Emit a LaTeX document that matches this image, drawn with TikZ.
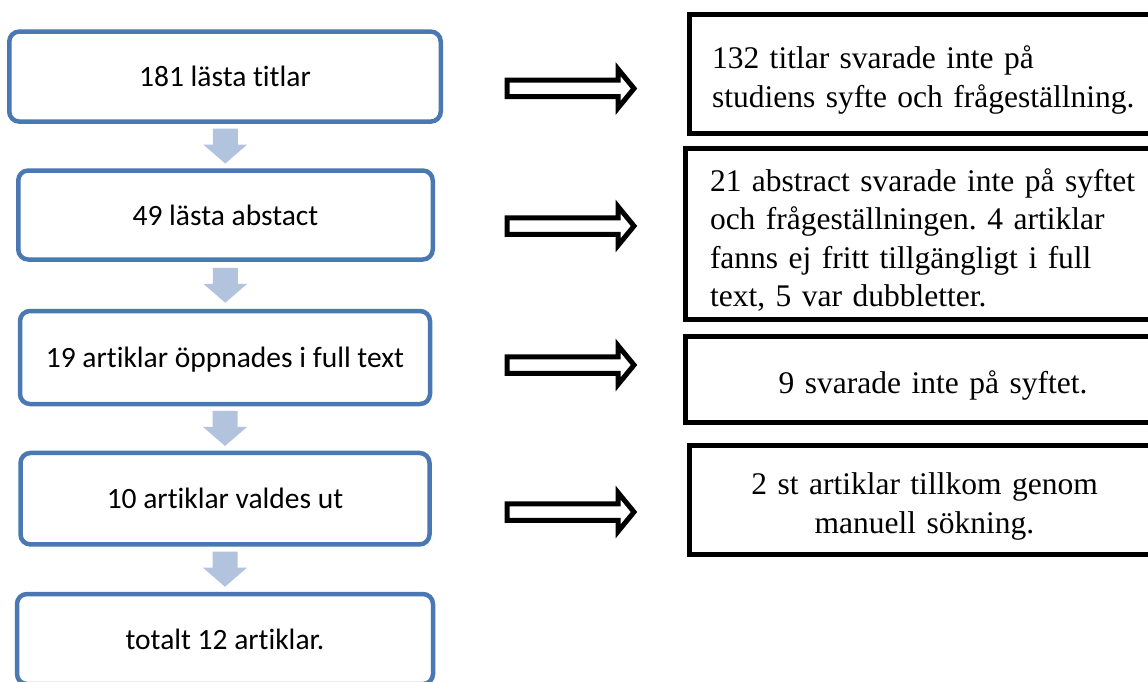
\documentclass[tikz,border=0pt]{standalone}
\usepackage{fontspec}
\setmainfont{Liberation Serif}
\newfontfamily\calibrifont[Ligatures=NoCommon]{Carlito}
\usepackage{xcolor}
\usepackage{tikz}
\usetikzlibrary{calc}
\frenchspacing

\definecolor{boxblue}{RGB}{74,120,178}
\definecolor{arrowblue}{RGB}{178,195,222}

\begin{document}
\begin{tikzpicture}[x=1pt, y=-1pt,
        flowbox/.style={draw=boxblue, line width=4.5pt, rounded corners=10pt, fill=white, inner sep=0pt, text depth=0pt, font=\calibrifont\fontsize{29.5}{35}\selectfont},
        sidebox/.style={draw=black, line width=5pt, fill=white, inner sep=0pt, text height=35pt, font=\fontsize{31.5}{38.5}\selectfont},
        downarrow/.style={fill=arrowblue},
        outarrow/.style={draw=black, line width=5pt, fill=white, miter limit=10},
    ]
    \useasboundingbox (0,0) rectangle (1148,682);
    \clip (0,0) rectangle (1148,682);

    % Flow boxes
    \node[flowbox, minimum width=431.5pt, minimum height=90pt] (titlar) at (225,76.6) {181 lästa titlar};
    \node[flowbox, minimum width=414.5pt, minimum height=89pt] (abstract) at (225.5,215) {49 lästa abstact};
    \node[flowbox, minimum width=410pt, minimum height=93pt] (fulltext) at (225,357.5) {19 artiklar öppnades i full text};
    \node[flowbox, minimum width=409pt, minimum height=91.5pt] (valda) at (225,498.7) {10 artiklar valdes ut};
    \node[flowbox, minimum width=416pt, minimum height=90pt] (totalt) at (225,639) {totalt 12 artiklar.};

    % Down arrows
    \foreach \a/\b in {titlar/abstract, abstract/fulltext, fulltext/valda, valda/totalt} {
        \coordinate (m) at ($(\a.south)!0.5!(\b.north)$);
        \fill[downarrow] ($(m)+(-12.5,-17.5)$) -- ($(m)+(12.5,-17.5)$) -- ($(m)+(12.5,-1.5)$)
            -- ($(m)+(22,-1.5)$) -- ($(m)+(0,17.5)$) -- ($(m)+(-22,-1.5)$) -- ($(m)+(-12.5,-1.5)$) -- cycle;
    }

    % Side boxes
    \node[sidebox, minimum width=485pt, minimum height=119pt, text width=440pt, align=left] (uttitlar) at (932,74)
        {132 titlar svarade inte på\\studiens syfte och frågeställning.};
    \node[sidebox, minimum width=490pt, minimum height=171pt, text width=441pt, align=left] (utabstract) at (930.5,234)
        {21 abstract svarade inte på syftet\\och frågeställningen. 4 artiklar\\fanns ej fritt tillgängligt i full\\text, 5 var dubbletter.};
    \node[sidebox, minimum width=495pt, minimum height=86pt, text width=440pt, align=center] (utfulltext) at (933,379.5)
        {9 svarade inte på syftet.};
    \node[sidebox, minimum width=470pt, minimum height=109pt, text width=440pt, align=center] (tillkom) at (924.5,500)
        {2 st artiklar tillkom genom\\manuell sökning.};

    % Hollow arrows
    \foreach \y in {88.5, 226, 365, 512} {
        \draw[outarrow] (507,\y-8.25) -- (618,\y-8.25) -- (618,\y-19.5) -- (634,\y)
            -- (618,\y+19.5) -- (618,\y+8.25) -- (507,\y+8.25) -- cycle;
    }

\end{tikzpicture}
\end{document}
